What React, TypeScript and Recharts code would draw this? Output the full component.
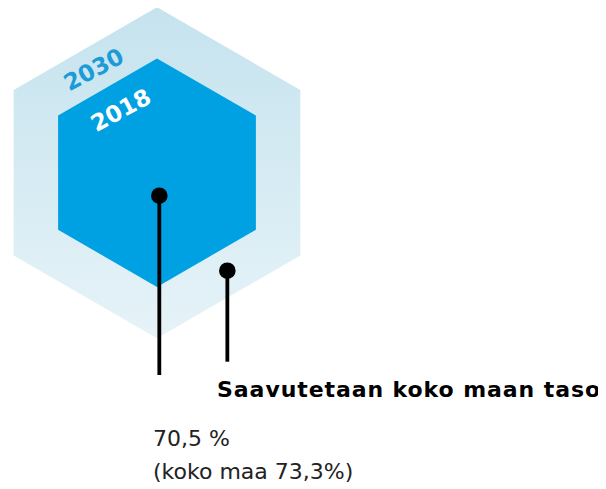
import {
  PolarAngleAxis,
  PolarRadiusAxis,
  Radar,
  RadarChart,
  Scatter,
  ScatterChart,
  XAxis,
  YAxis,
} from "recharts"

// hexagon sizes (relative, outer target = 100)
const sides = ["s1", "s2", "s3", "s4", "s5", "s6"]
const size2030 = 100
const size2018 = 69

// year labels, placed along the upper-left edge of each hexagon
const yearLabels = ["2030", "2018"]
const yearLabelX = [-38.3, -21.9]
const yearLabelY = [62.6, 38.0]
const yearLabelColor = ["#1b9bd7", "#ffffff"]

// leader dots and where their lines end
const dotX = [1.4, 42.5]
const dotY = [-13.9, -59.2]
const lineEndY = [-122.2, -114.2]

// note texts
const noteBold = "Saavutetaan koko maan taso"
const noteBoldX = 36.3
const noteBoldY = -135.5
const noteValue = ["70,5 %", "(koko maa 73,3%)"]
const noteValueX = -2.4
const noteValueY = -165.1

const W = 598
const H = 481
const CX = 149
const CY = 164.7
const R = 165.5
const unit = R / 100

const radarData = sides.map((s) => ({ side: s, y2030: size2030, y2018: size2018 }))

const yearData = yearLabels.map((t, i) => ({
  x: yearLabelX[i],
  y: yearLabelY[i],
  text: t,
  color: yearLabelColor[i],
}))

const leaders = dotX.map((x, i) => [
  { x, y: dotY[i], dot: true },
  { x, y: lineEndY[i], dot: false },
])

const noteData = [
  { x: noteBoldX, y: noteBoldY, kind: "bold" },
  { x: noteValueX, y: noteValueY, kind: "value" },
]

function LeaderDot(props: any) {
  if (!props.payload?.dot) return <g />
  return <circle cx={props.cx} cy={props.cy} r={8.3} fill="#000" />
}

function YearText(props: any) {
  const { cx, cy, payload } = props
  return (
    <text
      x={cx}
      y={cy}
      dy="0.36em"
      textAnchor="middle"
      transform={`rotate(-28 ${cx} ${cy})`}
      fill={payload.color}
      fontFamily="DejaVu Sans"
      fontWeight="bold"
      fontSize={23}
    >
      {payload.text}
    </text>
  )
}

function NoteText(props: any) {
  const { cx, cy, payload } = props
  if (payload.kind === "bold") {
    return (
      <text
        x={cx}
        y={cy}
        fill="#000"
        fontFamily="DejaVu Sans"
        fontWeight="bold"
        fontSize={22}
        textLength={383}
        lengthAdjust="spacing"
      >
        {noteBold}
      </text>
    )
  }
  return (
    <text x={cx} y={cy} fill="#222" fontFamily="DejaVu Sans" fontSize={22}>
      {noteValue.map((t, i) => (
        <tspan key={t} x={cx} dy={i === 0 ? 0 : 33}>
          {t}
        </tspan>
      ))}
    </text>
  )
}

export default function App() {
  return (
    <div style={{ position: "relative", width: W, height: H }}>
      <svg width={0} height={0} style={{ position: "absolute" }}>
        <defs>
          <linearGradient id="outerGrad" x1="0" y1="0" x2="0" y2="1">
            <stop offset="0%" stopColor="#c5e3ee" />
            <stop offset="100%" stopColor="#e6f3f8" />
          </linearGradient>
        </defs>
      </svg>
      <div style={{ position: "absolute", left: 0, top: 0 }}>
        <RadarChart
          width={W}
          height={H}
          data={radarData}
          cx={CX}
          cy={CY}
          outerRadius={R}
          margin={{ top: 0, right: 0, bottom: 0, left: 0 }}
        >
          <PolarAngleAxis dataKey="side" tick={false} axisLine={false} tickLine={false} />
          <PolarRadiusAxis domain={[0, 100]} tick={false} axisLine={false} />
          <Radar
            dataKey="y2030"
            fill="url(#outerGrad)"
            fillOpacity={1}
            stroke="none"
            isAnimationActive={false}
          />
          <Radar
            dataKey="y2018"
            fill="#00a1e2"
            fillOpacity={1}
            stroke="none"
            isAnimationActive={false}
          />
        </RadarChart>
      </div>
      <div style={{ position: "absolute", left: 0, top: 0 }}>
        <ScatterChart
          width={W}
          height={H}
          margin={{ top: 0, right: 0, bottom: 0, left: 0 }}
        >
          <XAxis
            type="number"
            dataKey="x"
            domain={[-CX / unit, (W - CX) / unit]}
            allowDataOverflow
            hide
          />
          <YAxis
            type="number"
            dataKey="y"
            domain={[(CY - H) / unit, CY / unit]}
            allowDataOverflow
            hide
          />
          <Scatter data={yearData} shape={YearText} isAnimationActive={false} />
          {leaders.map((pts, i) => (
            <Scatter
              key={i}
              data={pts}
              line={{ stroke: "#000", strokeWidth: 3.8 }}
              shape={LeaderDot}
              isAnimationActive={false}
            />
          ))}
          <Scatter data={noteData} shape={NoteText} isAnimationActive={false} />
        </ScatterChart>
      </div>
    </div>
  )
}
